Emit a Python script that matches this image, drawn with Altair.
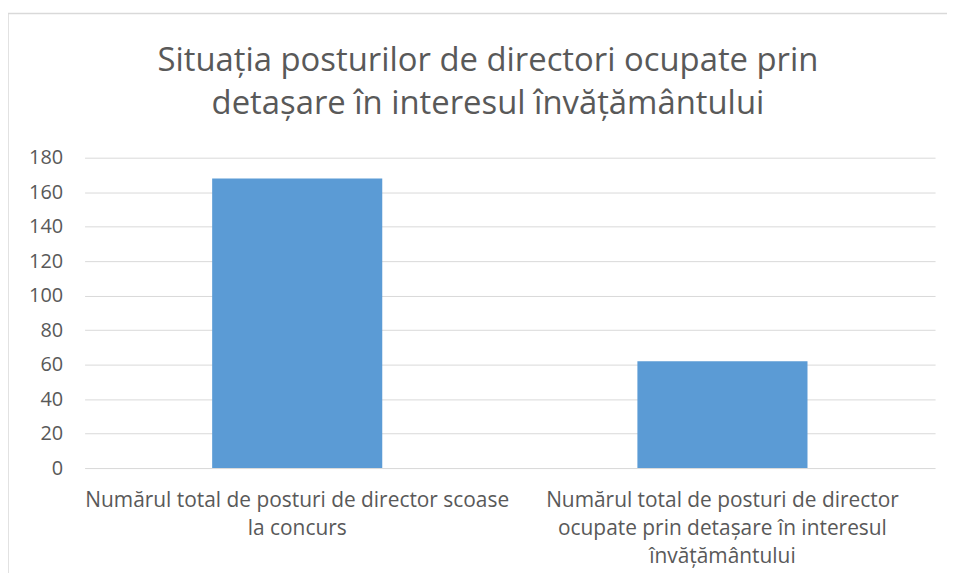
import json
import altair as alt
import pandas as pd

categories = [
    "Numărul total de posturi de director scoase la concurs",
    "Numărul total de posturi de director ocupate prin detașare în interesul învățământului",
]
values = [168, 62]
label_lines = [
    ["Numărul total de posturi de director scoase", "la concurs"],
    ["Numărul total de posturi de director", "ocupate prin detașare în interesul", "învățământului"],
]
title_lines = [
    "Situația posturilor de directori ocupate prin",
    "detașare în interesul învățământului",
]
y_ticks = [0, 20, 40, 60, 80, 100, 120, 140, 160, 180]

df = pd.DataFrame({"cat": categories, "val": values})
label_map = json.dumps(dict(zip(categories, label_lines)), ensure_ascii=False)

FONT = "Open Sans"
TEXT = "#595959"
GRID = "#D9D9D9"

W, H = 855, 312

bars = alt.Chart(df).mark_bar(color="#5B9BD5").encode(
    x=alt.X(
        "cat:N",
        sort=categories,
        title=None,
        scale=alt.Scale(paddingInner=0.6, paddingOuter=0.3),
        axis=alt.Axis(
            labelAngle=0,
            labelLimit=0,
            labelExpr=f"{label_map}[datum.label]",
            labelFont=FONT,
            labelFontSize=21,
            labelColor=TEXT,
            labelLineHeight=28,
            labelPadding=22,
            labelBaseline="top",
            domain=False,
            ticks=False,
            grid=False,
        ),
    ),
    y=alt.Y(
        "val:Q",
        title=None,
        scale=alt.Scale(domain=[0, 180], nice=False),
        axis=alt.Axis(
            values=y_ticks,
            labelFont=FONT,
            labelFontSize=20,
            labelColor=TEXT,
            labelPadding=22,
            domain=False,
            ticks=False,
            gridColor=GRID,
            gridWidth=1,
        ),
    ),
)

frame = alt.Chart(pd.DataFrame({"k": [0]})).mark_rect(
    fill=None, stroke=GRID, strokeWidth=1.5
).encode(
    x=alt.value(-77),
    x2=alt.value(W + 40),
    y=alt.value(-145),
    y2=alt.value(H + 160),
)

chart = alt.layer(frame, bars).properties(
    width=W,
    height=H,
    padding={"left": 77, "top": 149, "right": 12, "bottom": 104},
    autosize=alt.AutoSizeParams(type="none"),
    title=alt.TitleParams(
        text=title_lines,
        font=FONT,
        fontSize=33,
        fontWeight="normal",
        color=TEXT,
        anchor="middle",
        frame="group",
        dx=-22,
        offset=-109,
        lineHeight=43,
    ),
).configure_view(stroke=None)

chart.save("out.html", embed_options={"renderer": "svg", "actions": False})
